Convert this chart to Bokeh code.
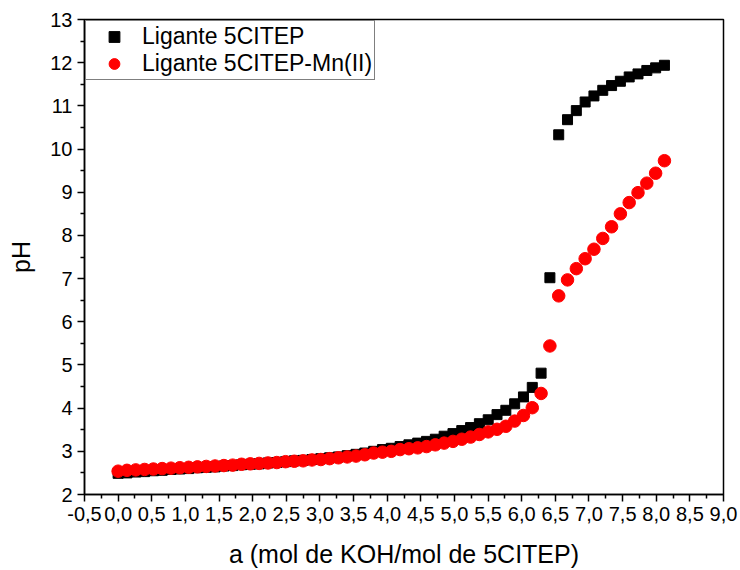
from bokeh.plotting import figure
from bokeh.models import FixedTicker, Legend, LegendItem, Range1d
from bokeh.embed import file_html
from bokeh.resources import INLINE

# ---- data ----
a_values = [0.000, 0.131, 0.262, 0.393, 0.524, 0.655, 0.786, 0.917, 1.048, 1.179,
            1.310, 1.441, 1.572, 1.703, 1.834, 1.965, 2.096, 2.227, 2.358, 2.489,
            2.620, 2.751, 2.882, 3.013, 3.144, 3.275, 3.406, 3.537, 3.668, 3.799,
            3.930, 4.061, 4.192, 4.323, 4.454, 4.585, 4.716, 4.847, 4.978, 5.109,
            5.240, 5.371, 5.502, 5.633, 5.764, 5.895, 6.026, 6.157, 6.288, 6.419,
            6.550, 6.681, 6.812, 6.943, 7.074, 7.205, 7.336, 7.467, 7.598, 7.729,
            7.860, 7.991, 8.122]

ph_ligante = [2.49, 2.50, 2.52, 2.53, 2.55, 2.56, 2.58, 2.59, 2.60, 2.62,
              2.63, 2.64, 2.66, 2.67, 2.69, 2.70, 2.71, 2.73, 2.74, 2.76,
              2.78, 2.79, 2.81, 2.83, 2.85, 2.87, 2.90, 2.93, 2.96, 3.00,
              3.04, 3.07, 3.11, 3.15, 3.19, 3.23, 3.28, 3.35, 3.41, 3.48,
              3.55, 3.64, 3.73, 3.85, 3.95, 4.10, 4.26, 4.48, 4.81, 7.02,
              10.33, 10.68, 10.89, 11.09, 11.23, 11.36, 11.47, 11.57, 11.67, 11.74,
              11.82, 11.88, 11.94]

ph_ligante_mn = [2.54, 2.56, 2.57, 2.58, 2.59, 2.60, 2.61, 2.62, 2.63, 2.64,
                 2.65, 2.66, 2.67, 2.68, 2.70, 2.71, 2.72, 2.73, 2.74, 2.76,
                 2.77, 2.78, 2.80, 2.81, 2.83, 2.85, 2.87, 2.89, 2.92, 2.96,
                 2.98, 3.00, 3.04, 3.06, 3.08, 3.11, 3.15, 3.19, 3.23, 3.28,
                 3.33, 3.39, 3.45, 3.51, 3.58, 3.70, 3.83, 4.01, 4.34, 5.44,
                 6.60, 6.97, 7.23, 7.46, 7.68, 7.93, 8.20, 8.50, 8.76, 8.99,
                 9.21, 9.44, 9.73]

series_names = ["Ligante 5CITEP", "Ligante 5CITEP-Mn(II)"]

x_ticks = [-0.5, 0.0, 0.5, 1.0, 1.5, 2.0, 2.5, 3.0, 3.5, 4.0, 4.5, 5.0, 5.5,
           6.0, 6.5, 7.0, 7.5, 8.0, 8.5, 9.0]
x_tick_labels = ["-0,5", "0,0", "0,5", "1,0", "1,5", "2,0", "2,5", "3,0", "3,5",
                 "4,0", "4,5", "5,0", "5,5", "6,0", "6,5", "7,0", "7,5", "8,0",
                 "8,5", "9,0"]
y_ticks = [2, 3, 4, 5, 6, 7, 8, 9, 10, 11, 12, 13]

FONT = "Liberation Sans"

p = figure(width=740, height=570, output_backend="svg", toolbar_location=None,
           x_range=Range1d(-0.5, 9.0), y_range=Range1d(2, 13),
           min_border_left=84, min_border_right=17, min_border_top=19,
           min_border_bottom=76)

p.xgrid.visible = False
p.ygrid.visible = False
p.background_fill_color = "white"
p.border_fill_color = "white"
p.outline_line_color = "black"
p.outline_line_width = 1.5

x_minor = [t + 0.25 for t in x_ticks[:-1]]
y_minor = [t + 0.5 for t in y_ticks[:-1]]
p.xaxis.ticker = FixedTicker(ticks=x_ticks, minor_ticks=x_minor)
p.yaxis.ticker = FixedTicker(ticks=y_ticks, minor_ticks=y_minor)
p.xaxis.major_label_overrides = {t: l for t, l in zip(x_ticks, x_tick_labels)}

for ax in (p.xaxis, p.yaxis):
    ax.axis_line_color = "black"
    ax.axis_line_width = 1.5
    ax.major_tick_line_color = "black"
    ax.major_tick_line_width = 1.5
    ax.minor_tick_line_color = "black"
    ax.minor_tick_line_width = 1.5
    ax.major_tick_out = 7
    ax.major_tick_in = 0
    ax.minor_tick_out = 4
    ax.minor_tick_in = 0
    ax.major_label_text_font = FONT
    ax.major_label_text_font_size = "20px"
    ax.major_label_text_color = "black"
    ax.axis_label_text_font = FONT
    ax.axis_label_text_font_size = "25px"
    ax.axis_label_text_font_style = "normal"
    ax.axis_label_text_color = "black"

p.xaxis.axis_label = "a (mol de KOH/mol de 5CITEP)"
p.yaxis.axis_label = "pH"
p.xaxis.major_label_standoff = 5
p.yaxis.major_label_standoff = 5
p.xaxis.axis_label_standoff = 16
p.yaxis.axis_label_standoff = 12

r1 = p.scatter(a_values, ph_ligante, marker="square", size=10,
               fill_color="black", line_color="black")
r2 = p.scatter(a_values, ph_ligante_mn, marker="circle", size=12.5,
               fill_color="#ff0000", line_color="#ff0000")

legend = Legend(items=[LegendItem(label=series_names[0], renderers=[r1]),
                       LegendItem(label=series_names[1], renderers=[r2])],
                location="top_left", margin=1, padding=2, spacing=0,
                glyph_width=52, glyph_height=27, label_height=27,
                label_standoff=2, label_text_font=FONT,
                label_text_font_size="23px", label_text_color="black",
                border_line_color="black", border_line_width=1,
                background_fill_color="white", background_fill_alpha=1.0)
p.add_layout(legend)

open("out.html", "w").write(file_html(p, INLINE))
